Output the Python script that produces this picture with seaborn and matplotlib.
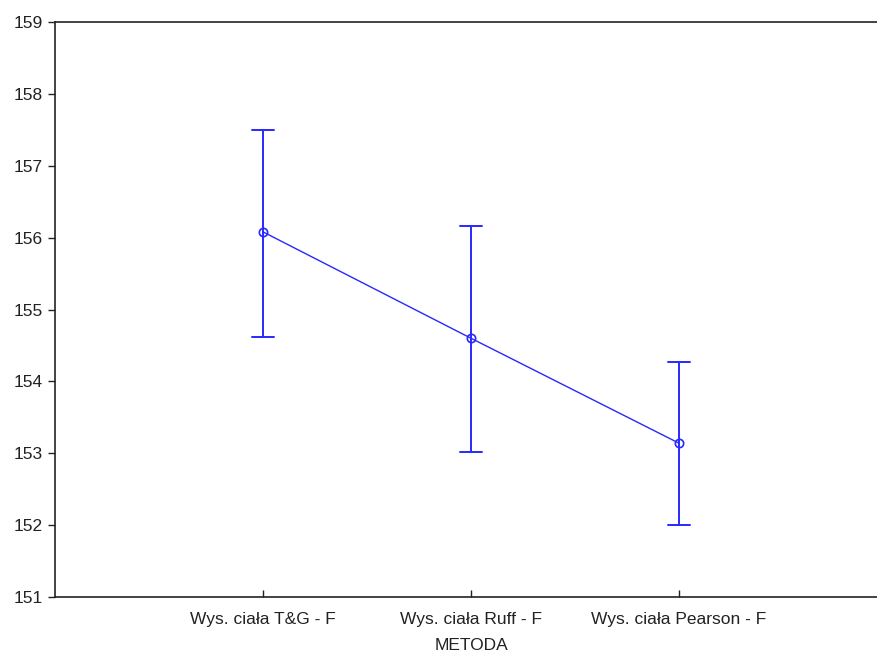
import matplotlib
matplotlib.use("Agg")
import matplotlib.pyplot as plt
import seaborn as sns
import pandas as pd

categories = ["Wys. ciała T&G - F", "Wys. ciała Ruff - F", "Wys. ciała Pearson - F"]
means = [156.08, 154.60, 153.14]
lower = [154.62, 153.02, 152.00]
upper = [157.50, 156.16, 154.27]

rows = []
for c, lo, m, hi in zip(categories, lower, means, upper):
    for v in (lo, m, hi):
        rows.append({"METODA": c, "value": v})
df = pd.DataFrame(rows)

sns.set_theme(style="white")
plt.rcParams["font.family"] = ["Liberation Sans", "DejaVu Sans"]

fig = plt.figure(figsize=(8.77, 6.58), dpi=100)
ax = fig.add_axes([55 / 877, 61 / 658, (887 - 55) / 877, 575 / 658])

blue = "#2828ff"
sns.pointplot(data=df, x="METODA", y="value", order=categories,
              estimator="median", errorbar=("pi", 100), capsize=0.106,
              color=blue, markers="o", linewidth=1.0,
              err_kws={"linewidth": 1.4},
              markerfacecolor="none", markeredgecolor=blue,
              markersize=6, markeredgewidth=1.2, ax=ax)

ax.set_xlim(-1, 3)
ax.set_ylim(151, 159)
ax.set_yticks(range(151, 160))
ax.set_ylabel("")
ax.set_xlabel("METODA", fontsize=12.5, color="#222222", labelpad=8)
for s in ax.spines.values():
    s.set_color("#222222")
    s.set_linewidth(1.2)
ax.tick_params(axis="y", direction="out", length=5, width=1, color="#222222",
               labelsize=12.5, labelcolor="#222222", left=True, pad=4)
ax.tick_params(axis="x", direction="in", length=5, width=1, color="#222222",
               labelsize=12.5, labelcolor="#222222", bottom=True, pad=11)

fig.savefig("out.png", dpi=100)
